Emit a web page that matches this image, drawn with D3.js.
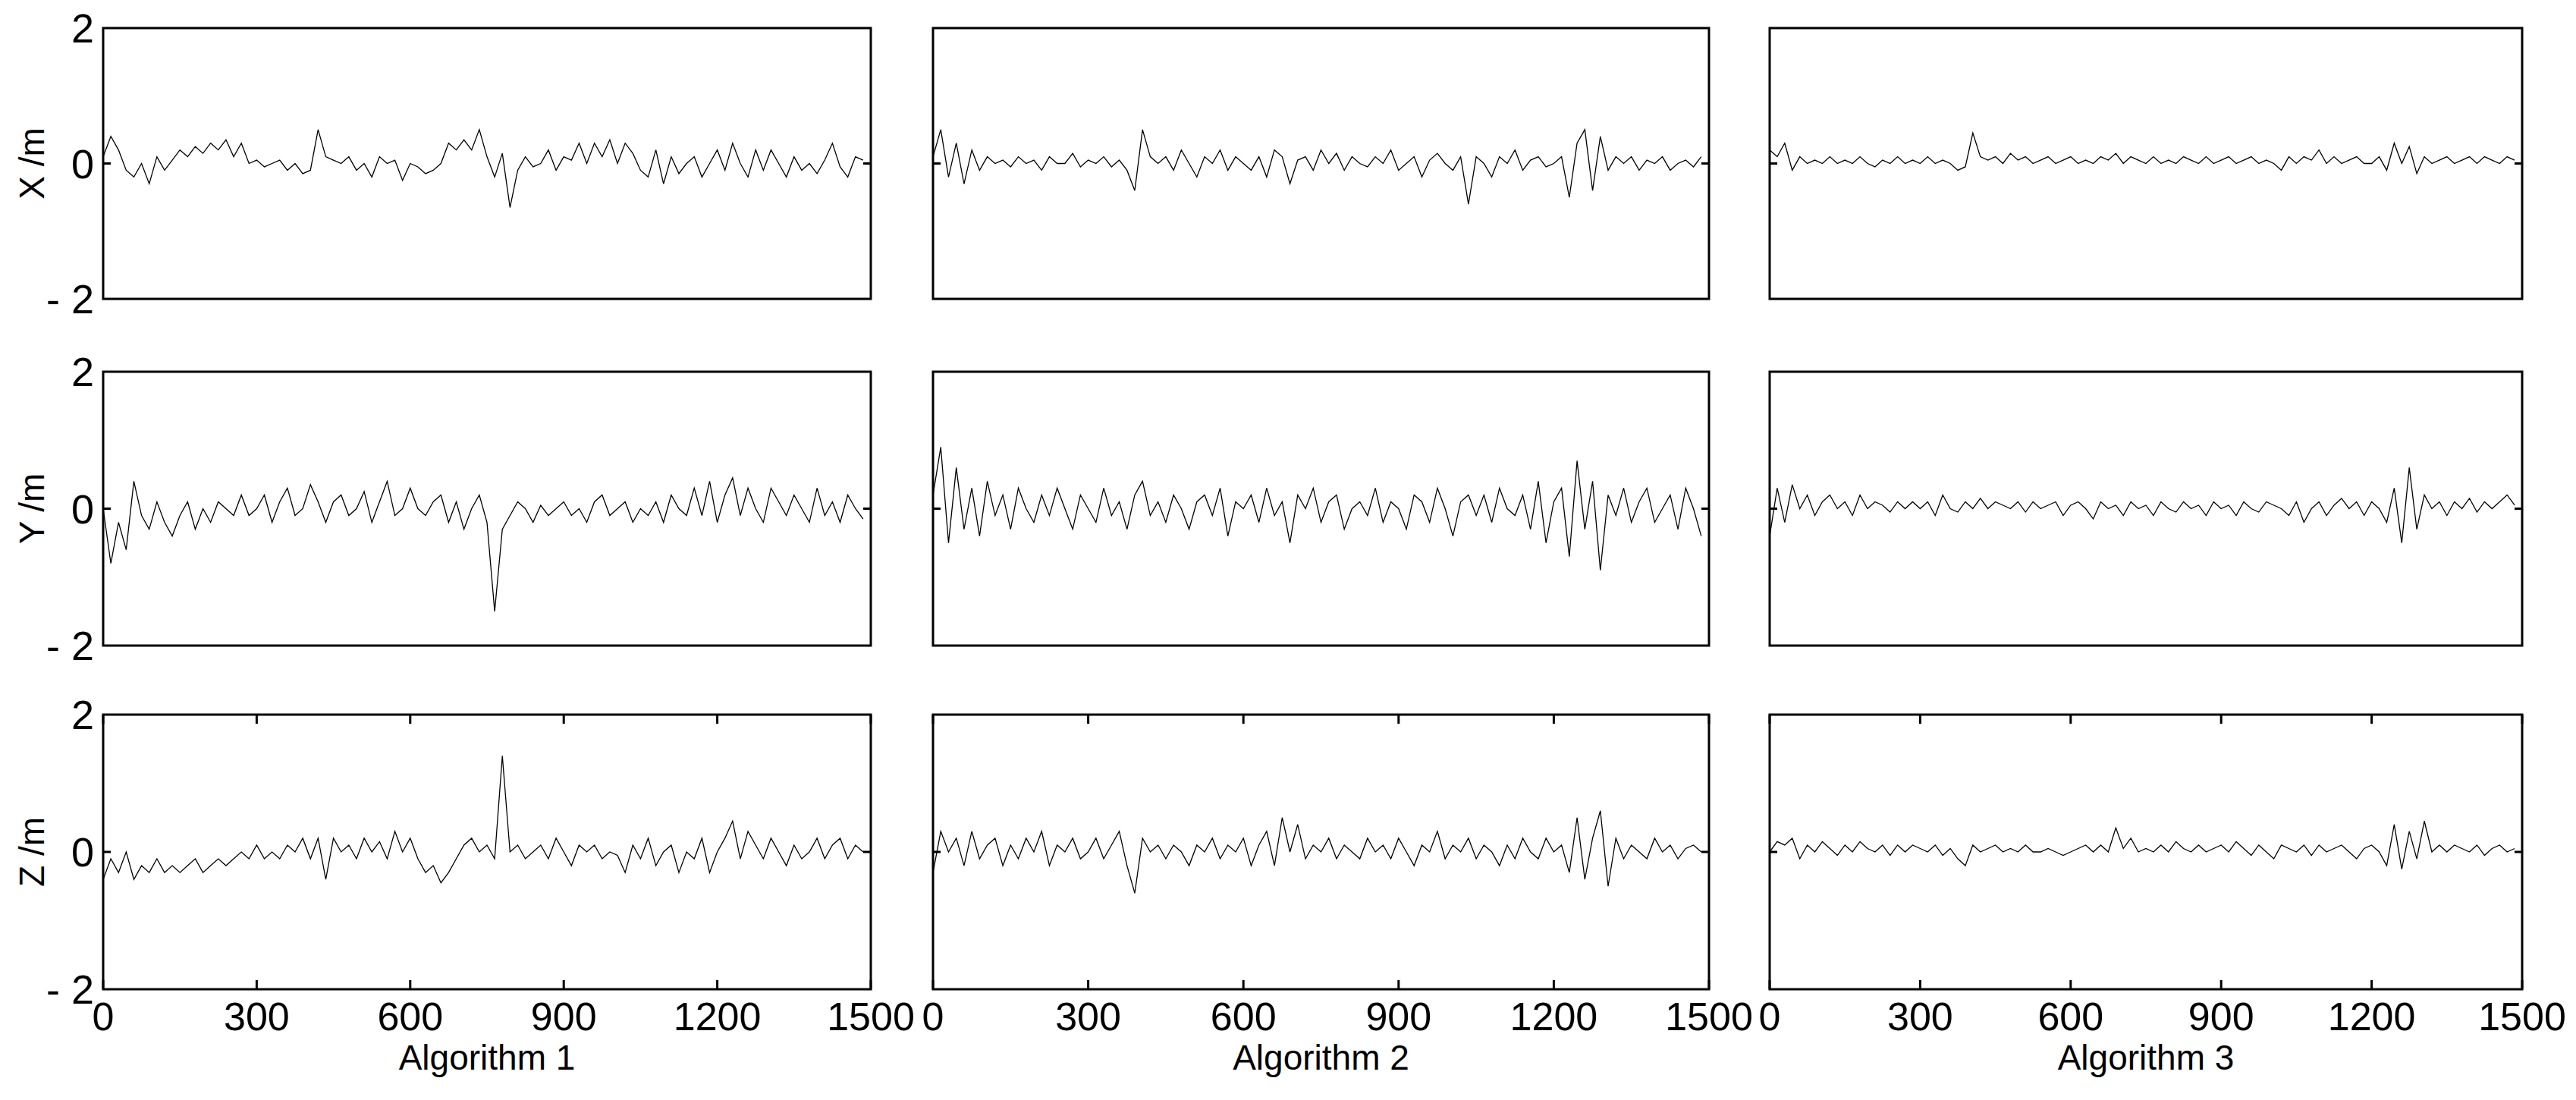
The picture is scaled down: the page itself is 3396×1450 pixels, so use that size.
<!DOCTYPE html>
<html><head><meta charset="utf-8">
<script src="https://cdn.jsdelivr.net/npm/d3@7"></script>
<style>body{margin:0;background:#fff}text{font-family:"Liberation Sans",Arial,sans-serif;fill:#000}</style>
</head><body><svg id="c" width="3396" height="1450"></svg>
<script>
const algorithms=["Algorithm 1","Algorithm 2","Algorithm 3"];
const axesNames=["X /m","Y /m","Z /m"];
const xTicks=[0,300,600,900,1200,1500];
const yTicks=[-2,0,2];
const step=15;
const a1x=[0.1,0.4,0.2,-0.1,-0.2,0.0,-0.3,0.1,-0.1,0.05,0.2,0.1,0.25,0.15,0.3,0.2,0.35,0.1,0.3,0.0,0.05,-0.05,0.0,0.05,-0.1,0.0,-0.15,-0.1,0.5,0.1,0.05,0.0,0.1,-0.1,0.0,-0.2,0.1,0.0,0.05,-0.25,0.0,-0.05,-0.15,-0.1,0.0,0.3,0.2,0.35,0.2,0.5,0.1,-0.2,0.15,-0.65,-0.1,0.1,-0.05,0.0,0.2,-0.1,0.1,0.05,0.3,0.0,0.3,0.1,0.35,0.0,0.3,0.15,-0.1,-0.2,0.2,-0.3,0.1,-0.15,0.0,0.1,-0.2,0.0,0.2,-0.1,0.3,0.0,-0.2,0.2,-0.1,0.2,0.0,-0.2,0.1,-0.1,0.0,-0.15,0.05,0.3,-0.05,-0.2,0.1,0.05];
const a1y=[0.0,-0.8,-0.2,-0.6,0.4,-0.1,-0.3,0.1,-0.2,-0.4,-0.1,0.1,-0.3,0.0,-0.2,0.1,0.0,-0.1,0.2,-0.1,0.0,0.2,-0.2,0.1,0.3,-0.1,0.0,0.35,0.1,-0.2,0.1,0.2,-0.1,0.0,0.25,-0.2,0.1,0.4,-0.1,0.0,0.3,0.0,-0.1,0.1,0.2,-0.2,0.1,-0.3,0.0,0.2,-0.2,-1.5,-0.3,-0.1,0.1,0.0,-0.2,0.05,-0.1,0.0,0.1,-0.1,0.0,-0.2,0.1,0.2,-0.1,0.0,0.1,-0.2,0.0,-0.1,0.1,-0.2,0.2,0.0,-0.1,0.3,-0.1,0.4,-0.2,0.2,0.45,-0.1,0.3,0.0,-0.2,0.3,0.1,-0.1,0.2,0.0,-0.2,0.3,-0.1,0.1,-0.2,0.2,0.0,-0.15];
const a1z=[-0.4,-0.1,-0.3,0.0,-0.4,-0.2,-0.3,-0.1,-0.3,-0.2,-0.3,-0.2,-0.1,-0.3,-0.2,-0.1,-0.2,-0.1,0.0,-0.1,0.1,-0.1,0.0,-0.1,0.1,0.0,0.2,-0.1,0.2,-0.4,0.2,0.0,0.1,-0.1,0.2,0.0,0.15,-0.1,0.3,0.0,0.2,-0.1,-0.3,-0.2,-0.45,-0.3,-0.1,0.1,0.2,0.0,0.1,-0.1,1.4,0.0,0.1,-0.1,0.0,0.1,-0.1,0.2,0.0,-0.2,0.1,0.0,0.1,-0.1,0.0,-0.05,-0.3,0.1,-0.1,0.2,-0.2,0.0,0.1,-0.3,0.0,-0.1,0.2,-0.3,0.0,0.2,0.45,-0.1,0.3,0.1,-0.1,0.2,0.0,-0.2,0.1,-0.1,0.0,0.2,-0.1,0.1,0.2,-0.1,0.1,0.0];
const a2x=[0.1,0.5,-0.2,0.3,-0.3,0.2,-0.1,0.1,0.0,0.05,-0.05,0.1,0.0,0.05,-0.1,0.1,0.0,0.0,0.15,-0.05,0.05,0.0,0.1,-0.05,0.05,-0.1,-0.4,0.5,0.1,0.0,0.1,-0.1,0.2,0.0,-0.2,0.1,0.0,0.2,-0.1,0.1,0.0,-0.1,0.1,-0.2,0.2,0.1,-0.3,0.05,0.1,-0.1,0.2,0.0,0.15,-0.1,0.1,0.0,-0.05,0.1,0.0,0.2,-0.1,0.0,0.1,-0.2,0.05,0.15,0.0,-0.1,0.1,-0.6,0.1,0.0,-0.2,0.1,0.0,0.2,-0.1,0.05,0.1,-0.05,0.0,0.1,-0.5,0.3,0.5,-0.4,0.4,-0.1,0.1,0.0,0.1,-0.1,0.05,0.0,0.1,-0.1,0.0,0.05,-0.05,0.1];
const a2y=[0.2,0.9,-0.5,0.6,-0.3,0.3,-0.4,0.4,-0.1,0.2,-0.3,0.3,0.0,-0.2,0.2,-0.1,0.3,0.0,-0.3,0.2,0.0,-0.2,0.3,-0.1,0.1,-0.3,0.2,0.4,-0.1,0.1,-0.2,0.2,0.0,-0.3,0.1,0.2,-0.1,0.3,-0.4,0.1,0.0,0.2,-0.2,0.3,-0.1,0.1,-0.5,0.2,0.0,0.3,-0.2,0.1,0.2,-0.3,0.0,0.1,-0.1,0.3,-0.2,0.1,0.0,-0.3,0.2,0.1,-0.2,0.3,0.0,-0.4,0.1,0.2,-0.1,0.2,-0.2,0.3,0.0,-0.1,0.2,-0.3,0.4,-0.5,0.1,0.3,-0.7,0.7,-0.3,0.4,-0.9,0.2,-0.1,0.3,-0.2,0.1,0.3,-0.2,0.0,0.2,-0.3,0.3,0.0,-0.4];
const a2z=[-0.3,0.3,0.0,0.2,-0.2,0.3,-0.1,0.1,0.2,-0.2,0.1,-0.1,0.2,0.0,0.3,-0.2,0.1,0.0,0.2,-0.1,0.0,0.2,-0.1,0.1,0.3,-0.2,-0.6,0.2,0.0,0.1,-0.1,0.1,0.0,-0.2,0.1,0.0,0.2,-0.1,0.1,0.0,0.2,-0.2,0.1,0.3,-0.2,0.5,0.0,0.4,-0.1,0.1,0.0,0.2,-0.1,0.1,0.0,-0.1,0.2,0.0,0.1,-0.1,0.2,0.0,-0.2,0.1,0.0,0.3,-0.1,0.1,0.0,0.2,-0.1,0.1,0.0,-0.2,0.1,-0.1,0.2,0.0,-0.1,0.2,0.0,0.1,-0.3,0.5,-0.4,0.2,0.6,-0.5,0.2,-0.1,0.1,0.0,-0.1,0.2,0.0,0.1,-0.1,0.05,0.1,0.0];
const a3x=[0.2,0.1,0.3,-0.1,0.1,0.0,0.05,0.0,0.1,0.0,0.05,0.0,0.1,0.0,-0.05,0.05,0.0,0.1,0.0,0.05,0.0,0.1,0.0,0.05,0.0,-0.1,-0.05,0.45,0.1,0.05,0.1,0.0,0.15,0.05,0.1,0.0,0.05,0.1,0.0,0.05,0.1,0.0,0.05,0.0,0.1,0.05,0.15,0.0,0.1,0.05,0.0,0.1,0.0,0.05,0.0,0.1,0.05,0.0,0.1,0.0,0.05,0.1,0.0,0.05,0.1,0.0,0.05,0.0,-0.1,0.1,0.0,0.1,0.05,0.2,0.0,0.1,0.0,0.05,0.1,0.0,0.0,0.1,-0.1,0.3,0.0,0.25,-0.15,0.1,0.0,0.05,0.1,0.0,0.05,0.1,0.0,0.1,0.05,0.0,0.1,0.05];
const a3y=[-0.4,0.3,-0.2,0.35,0.0,0.2,-0.1,0.1,0.2,0.0,0.1,-0.1,0.2,0.0,0.1,0.05,-0.05,0.1,0.0,0.1,0.0,0.1,-0.1,0.2,0.0,-0.05,0.1,0.0,0.15,0.0,0.1,0.05,0.0,0.1,-0.05,0.1,0.0,0.05,0.1,-0.1,0.05,0.1,0.0,-0.15,0.1,0.0,0.05,-0.1,0.1,0.0,0.05,-0.1,0.1,0.0,-0.05,0.1,0.0,0.05,-0.1,0.1,0.0,0.05,-0.1,0.1,0.0,-0.05,0.1,0.05,0.0,-0.1,0.1,-0.2,0.0,0.1,-0.1,0.05,0.15,0.0,0.1,-0.1,0.1,0.0,-0.2,0.3,-0.5,0.6,-0.3,0.2,0.0,0.1,-0.1,0.1,0.0,0.15,-0.05,0.1,0.0,0.1,0.2,0.05];
const a3z=[0.0,0.15,0.1,0.2,-0.1,0.1,0.0,0.15,0.05,-0.05,0.1,0.0,0.15,0.05,0.0,0.1,-0.05,0.1,0.0,0.1,0.05,0.0,0.1,-0.05,0.05,-0.1,-0.2,0.1,0.0,0.05,0.1,0.0,0.05,0.0,0.1,0.0,0.0,0.05,0.0,-0.05,0.0,0.05,0.1,0.0,0.1,0.0,0.35,0.05,0.2,0.0,0.05,0.0,0.1,0.0,0.15,0.05,0.0,0.1,0.0,0.05,0.1,0.0,0.15,0.05,-0.05,0.1,0.0,-0.1,0.1,0.05,0.0,0.1,-0.05,0.1,0.0,0.05,0.1,0.0,-0.1,0.05,0.1,0.0,-0.2,0.4,-0.25,0.3,-0.1,0.45,0.0,0.1,0.0,0.1,0.05,0.0,0.1,-0.05,0.05,0.1,0.0,0.05];
const series=[[a1x,a2x,a3x],[a1y,a2y,a3y],[a1z,a2z,a3z]];

const svg=d3.select("#c");
const cols=[[136,1148],[1230,2253],[2333,3325]];
const rows=[[37,394],[490,851],[942,1304]];
rows.forEach((r,ri)=>{
  cols.forEach((c,ci)=>{
    const x=d3.scaleLinear().domain([0,1500]).range(c);
    const y=d3.scaleLinear().domain([-2,2]).range([r[1],r[0]]);
    const g=svg.append("g");
    const data=series[ri][ci];
    g.append("path").datum(data).attr("fill","none").attr("stroke","#000").attr("stroke-width",1.3)
      .attr("d",d3.line().x((d,i)=>x(i*step)).y(d=>y(d)));
    g.append("rect").attr("x",c[0]).attr("y",r[0]).attr("width",c[1]-c[0]).attr("height",r[1]-r[0])
      .attr("fill","none").attr("stroke","#000").attr("stroke-width",3);
    [c[0],c[1]].forEach((xx,k)=>g.append("line").attr("x1",xx).attr("x2",xx+(k?-10:10)).attr("y1",y(0)).attr("y2",y(0)).attr("stroke","#000").attr("stroke-width",3));
    if(ci===0){
      yTicks.forEach(t=>g.append("text").attr("x",c[0]-12).attr("y",y(t)).attr("dy","0.36em")
        .attr("text-anchor","end").attr("font-size",54).text(t<0?"- "+Math.abs(t):t));
      g.append("text").attr("transform",`translate(58,${(r[0]+r[1])/2}) rotate(-90)`)
        .attr("text-anchor","middle").attr("font-size",46).text(axesNames[ri]);
    }
    if(ri===2){
      xTicks.forEach(t=>{
        g.append("line").attr("x1",x(t)).attr("x2",x(t)).attr("y1",r[1]).attr("y2",r[1]-12).attr("stroke","#000").attr("stroke-width",3);
        g.append("line").attr("x1",x(t)).attr("x2",x(t)).attr("y1",r[0]).attr("y2",r[0]+12).attr("stroke","#000").attr("stroke-width",3);
        g.append("text").attr("x",x(t)).attr("y",r[1]+54).attr("text-anchor","middle").attr("font-size",52).text(t);
      });
      g.append("text").attr("x",(c[0]+c[1])/2).attr("y",r[1]+106).attr("text-anchor","middle").attr("font-size",46).text(algorithms[ci]);
    }
  });
});
</script></body></html>
